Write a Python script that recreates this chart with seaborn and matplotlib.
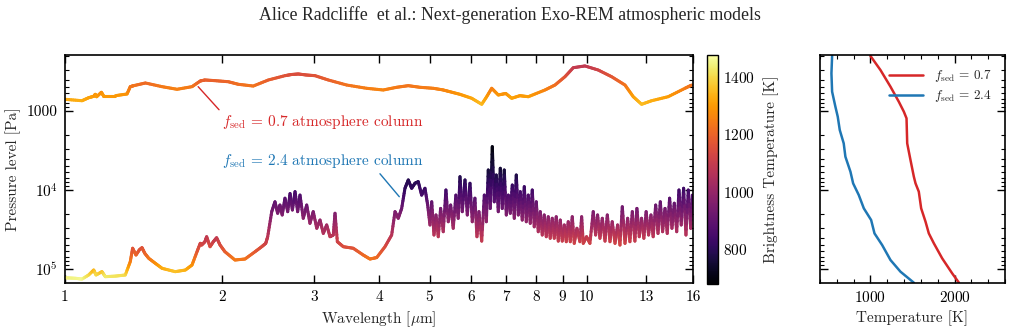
import numpy as np
import pandas as pd
import matplotlib
matplotlib.use("Agg")
import matplotlib.pyplot as plt
import seaborn as sns
from matplotlib.collections import LineCollection
from matplotlib.colors import Normalize
from matplotlib.ticker import (FixedLocator, FixedFormatter, LogLocator,
                               NullFormatter, MultipleLocator)

# ---------------- data ----------------
# f_sed = 0.7 : emission pressure level per wavelength + brightness temperature
wl_07 = [1.00, 1.078, 1.110, 1.135, 1.143, 1.150, 1.174, 1.185, 1.249, 1.315,
         1.334, 1.354, 1.426, 1.535, 1.640, 1.752, 1.817, 1.855, 1.940, 2.057,
         2.149, 2.296, 2.454, 2.641, 2.72, 2.802, 2.90, 3.015, 3.198, 3.468,
         3.788, 4.076, 4.324, 4.552, 4.793, 5.083, 5.30, 5.471, 5.719, 6.023,
         6.295, 6.435, 6.579, 6.773, 7.0, 7.185, 7.45, 7.733, 8.323, 8.699,
         9.092, 9.430, 9.93, 10.53, 11.17, 11.85, 12.29, 12.75, 13.33, 14.34,
         15.44, 15.91]
p_07 = [711, 741, 679, 652, 615, 660, 580, 640, 640, 609,
        492, 478, 442, 492, 531, 492, 417, 405, 413, 426,
        459, 483, 405, 357, 345, 340, 350, 357, 405, 469,
        516, 542, 501, 478, 501, 516, 540, 570, 615, 690,
        822, 659, 516, 627, 600, 690, 640, 659, 542, 469,
        368, 283, 269, 303, 368, 469, 659, 822, 741, 659,
        516, 469]
tb_07 = [1321, 1331, 1311, 1302, 1289, 1305, 1275, 1297, 1297, 1286,
         1238, 1231, 1211, 1238, 1255, 1238, 1197, 1190, 1195, 1202,
         1221, 1233, 1190, 1160, 1152, 1147, 1154, 1160, 1190, 1226,
         1249, 1260, 1242, 1231, 1242, 1249, 1259, 1271, 1289, 1315,
         1353, 1304, 1249, 1293, 1283, 1315, 1297, 1304, 1260, 1226,
         1167, 1100, 1085, 1119, 1167, 1226, 1304, 1353, 1331, 1304,
         1249, 1226]

# f_sed = 2.4
wl_24 = [1.00, 1.046, 1.078, 1.110, 1.135, 1.147, 1.177, 1.195, 1.249, 1.305,
         1.334, 1.348, 1.368, 1.388, 1.405, 1.422, 1.447, 1.490, 1.535, 1.627,
         1.701, 1.752, 1.791, 1.817, 1.828, 1.855, 1.869, 1.897, 1.925, 1.953,
         1.983, 2.026, 2.118, 2.214, 2.314, 2.383, 2.426, 2.447, 2.491, 2.527,
         2.557, 2.583, 2.609, 2.641, 2.673, 2.701, 2.729, 2.761, 2.793, 2.822,
         2.863, 2.907, 2.949, 2.992, 3.039, 3.083, 3.128, 3.175, 3.222, 3.269,
         3.294, 3.328, 3.417, 3.570, 3.731, 3.843, 3.960, 4.107, 4.230, 4.293,
         4.355, 4.421, 4.486, 4.552, 4.620, 4.688, 4.757, 4.829, 4.900, 4.959,
         5.010, 5.048, 5.099, 5.144, 5.196, 5.251, 5.312, 5.375, 5.431, 5.489,
         5.551, 5.617, 5.675, 5.719, 5.777, 5.847, 5.907, 5.977, 6.038, 6.109,
         6.164, 6.219, 6.295, 6.368, 6.425, 6.480, 6.538, 6.596, 6.653, 6.713,
         6.773, 6.833, 6.893, 6.954, 7.017, 7.079, 7.142, 7.205, 7.269, 7.333,
         7.398, 7.463, 7.529, 7.597, 7.664, 7.731, 7.801, 7.869, 7.938, 8.010,
         8.080, 8.151, 8.224, 8.296, 8.371, 8.445, 8.519, 8.594, 8.672, 8.748,
         8.827, 8.905, 8.983, 9.064, 9.144, 9.224, 9.307, 9.389, 9.472, 9.585,
         9.712, 9.786, 9.856, 10.00, 10.15, 10.30, 10.41, 10.50, 10.61, 10.72,
         10.85, 10.96, 11.09, 11.20, 11.34, 11.47, 11.59, 11.71, 11.85, 11.99,
         12.11, 12.24, 12.38, 12.49, 12.62, 12.75, 12.88, 13.01, 13.15, 13.29,
         13.42, 13.57, 13.71, 13.85, 13.99, 14.14, 14.28, 14.43, 14.58, 14.73,
         14.89, 15.04, 15.19, 15.35, 15.51, 15.67, 15.84, 15.95]
p_24 = [1.29e5, 1.31e5, 1.34e5, 1.19e5, 1.03e5, 1.19e5, 1.08e5, 1.25e5, 1.23e5, 1.19e5,
        8.07e4, 5.46e4, 6.65e4, 5.74e4, 5.37e4, 6.32e4, 7.31e4, 8.47e4, 9.80e4, 1.08e5,
        1.03e5, 8.90e4, 6.04e4, 4.73e4, 4.97e4, 4.51e4, 3.90e4, 5.22e4, 4.51e4, 4.02e4,
        4.97e4, 6.04e4, 7.69e4, 7.47e4, 6.04e4, 5.22e4, 4.73e4, 3.90e4, 1.88e4, 1.41e4,
        1.97e4, 1.55e4, 2.07e4, 1.27e4, 1.88e4, 1.11e4, 1.79e4, 1.05e4, 1.88e4, 1.16e4,
        2.28e4, 1.55e4, 2.64e4, 1.88e4, 3.05e4, 2.40e4, 3.54e4, 2.77e4, 3.90e4, 3.71e4,
        1.97e4, 4.51e4, 5.22e4, 5.46e4, 6.65e4, 7.47e4, 7.16e4, 5.22e4, 3.71e4, 1.88e4,
        2.28e4, 1.71e4, 9.51e3, 7.46e3, 9.51e3, 8.22e3, 7.85e3, 1.16e4, 9.51e3, 1.55e4,
        2.77e4, 1.41e4, 3.71e4, 2.07e4, 3.90e4, 1.71e4, 3.37e4, 1.00e4, 2.52e4, 1.55e4,
        3.05e4, 1.16e4, 2.28e4, 6.79e3, 1.88e4, 7.46e3, 2.07e4, 8.22e3, 2.52e4, 1.27e4,
        3.90e4, 1.88e4, 4.43e4, 1.16e4, 2.52e4, 5.58e3, 1.71e4, 2.83e3, 1.41e4, 6.46e3,
        1.88e4, 5.31e3, 1.71e4, 5.58e3, 2.07e4, 1.16e4, 1.97e4, 8.65e3, 2.28e4, 6.46e3,
        2.07e4, 1.05e4, 2.40e4, 9.08e3, 2.52e4, 1.16e4, 2.64e4, 1.00e4, 2.92e4, 1.41e4,
        3.37e4, 1.88e4, 3.71e4, 2.07e4, 3.90e4, 2.18e4, 4.08e4, 2.28e4, 4.08e4, 2.18e4,
        4.43e4, 2.40e4, 4.43e4, 2.77e4, 4.51e4, 2.52e4, 4.51e4, 2.18e4, 4.73e4, 3.05e4,
        4.51e4, 2.18e4, 4.73e4, 3.90e4, 4.73e4, 1.88e4, 3.71e4, 2.07e4, 4.08e4, 2.28e4,
        4.43e4, 2.07e4, 4.51e4, 2.52e4, 4.73e4, 2.77e4, 4.97e4, 1.63e4, 4.73e4, 2.28e4,
        4.51e4, 1.88e4, 4.43e4, 1.71e4, 3.90e4, 2.28e4, 4.08e4, 1.88e4, 3.71e4, 2.07e4,
        3.90e4, 1.55e4, 3.54e4, 1.41e4, 3.37e4, 1.71e4, 3.54e4, 1.27e4, 3.05e4, 1.47e4,
        3.37e4, 1.00e4, 2.77e4, 9.51e3, 3.71e4, 1.00e4, 3.05e4, 1.16e4]
tb_24 = [1440, 1448, 1457, 1405, 1340, 1405, 1362, 1427, 1418, 1405,
         1257, 1159, 1205, 1170, 1155, 1192, 1228, 1273, 1323, 1362,
         1340, 1290, 1181, 1125, 1137, 1116, 1085, 1148, 1116, 1091,
         1137, 1181, 1240, 1233, 1181, 1148, 1125, 1085, 945, 894,
         953, 912, 963, 876, 945, 850, 935, 840, 945, 860,
         981, 912, 1008, 945, 1036, 990, 1063, 1018, 1085, 1075,
         953, 1116, 1148, 1159, 1205, 1233, 1217, 1148, 1075, 945,
         981, 925, 810, 790, 810, 795, 795, 855, 820, 910,
         1018, 894, 1075, 963, 1085, 925, 1055, 830, 1000, 912,
         1036, 860, 981, 776, 945, 790, 963, 803, 1000, 876,
         1085, 945, 1105, 860, 1000, 750, 925, 690, 894, 770,
         945, 745, 925, 750, 963, 860, 953, 810, 981, 770,
         963, 840, 990, 815, 1000, 860, 1008, 830, 1027, 894,
         1055, 945, 1075, 963, 1085, 972, 1095, 981, 1095, 972,
         1105, 990, 1105, 1018, 1116, 1000, 1116, 972, 1125, 1036,
         1116, 972, 1125, 1085, 1125, 945, 1075, 963, 1095, 981,
         1105, 963, 1116, 1000, 1125, 1018, 1137, 920, 1125, 981,
         1116, 945, 1105, 925, 1085, 981, 1095, 945, 1075, 963,
         1085, 912, 1063, 894, 1055, 925, 1063, 876, 1036, 900,
         1055, 830, 1018, 820, 1075, 830, 1036, 860]

# temperature-pressure profiles (right panel)
prof_p = [201, 303, 492, 762, 1019, 1238, 2566, 4170, 6776, 8240, 10500, 17060,
          25180, 35400, 47300, 73300, 113500, 149000]
prof_t_07 = [1000, 1119, 1238, 1337, 1397, 1429, 1437, 1476, 1516, 1536, 1575,
             1603, 1655, 1694, 1754, 1853, 1972, 2052]
prof_p_24 = [201, 334, 569, 881, 1180, 1740, 2566, 3787, 5860, 8240, 11570, 17060,
             23970, 35400, 49700, 76900, 108100, 149000]
prof_t_24 = [544, 536, 544, 583, 611, 635, 682, 702, 762, 794, 861, 921, 1008,
             1048, 1139, 1238, 1357, 1516]

wl_ticks = [1, 2, 3, 4, 5, 6, 7, 8, 9, 10, 13, 16]
p_ticks = [1e3, 1e4, 1e5]
p_tick_labels = ["1000", r"$10^4$", r"$10^5$"]
cbar_ticks = [800, 1000, 1200, 1400]
label_07 = r"$f_{\rm sed}$ = 0.7"
label_24 = r"$f_{\rm sed}$ = 2.4"
RED = "#d62728"
BLUE = "#1f77b4"

# ---------------- style ----------------
sns.set_theme(style="ticks")
plt.rcParams.update({
    "font.family": ["cmr10", "DejaVu Serif"],
    "mathtext.fontset": "cm",
    "axes.unicode_minus": False,
    "axes.formatter.use_mathtext": True,
    "axes.linewidth": 1.2,
    "axes.edgecolor": "black",
    "xtick.direction": "in", "ytick.direction": "in",
    "xtick.top": True, "ytick.right": True,
    "xtick.major.size": 6, "ytick.major.size": 6,
    "xtick.minor.size": 3, "ytick.minor.size": 3,
    "xtick.major.width": 1.0, "ytick.major.width": 1.0,
    "xtick.minor.width": 0.8, "ytick.minor.width": 0.8,
    "xtick.color": "black", "ytick.color": "black",
    "xtick.labelsize": 11, "ytick.labelsize": 11,
    "axes.labelsize": 11,
})

W, H = 1013, 329
fig = plt.figure(figsize=(W / 100, H / 100), dpi=100)
ax = fig.add_axes([65 / W, 1 - 283 / H, (693 - 65) / W, (283 - 55) / H])
cax = fig.add_axes([707 / W, 1 - 284 / H, 11 / W, (284 - 55) / H])
ax2 = fig.add_axes([820 / W, 1 - 283 / H, (1005 - 820) / W, (283 - 55) / H])

norm = Normalize(vmin=680, vmax=1475)
cmap = plt.get_cmap("inferno")


def gradient_collection(x, y, c, n=8, lw=2.1):
    """Split each drawn segment into n pieces so the colour varies smoothly
    along the line (rendering only; data points are untouched)."""
    x, y, c = np.asarray(x, float), np.asarray(y, float), np.asarray(c, float)
    lx, ly = np.log10(x), np.log10(y)
    t = np.linspace(0, 1, n + 1)
    segs, cols = [], []
    for i in range(len(x) - 1):
        xs = 10 ** (lx[i] + (lx[i + 1] - lx[i]) * t)
        ys = 10 ** (ly[i] + (ly[i + 1] - ly[i]) * t)
        tm = 0.5 * (t[:-1] + t[1:])
        cs = c[i] + (c[i + 1] - c[i]) * tm
        for j in range(n):
            segs.append([(xs[j], ys[j]), (xs[j + 1], ys[j + 1])])
            cols.append(cs[j])
    lc = LineCollection(segs, cmap=cmap, norm=norm, linewidths=lw,
                        capstyle="round", joinstyle="round")
    lc.set_array(np.array(cols))
    return lc


ax.set_xscale("log")
ax.set_yscale("log")
lc1 = gradient_collection(wl_07, p_07, tb_07, lw=2.2)
lc2 = gradient_collection(wl_24, p_24, tb_24, lw=2.2)
ax.add_collection(lc1)
ax.add_collection(lc2)
ax.set_xlim(1, 16)
ax.set_ylim(1.503e5, 195.5)

ax.xaxis.set_major_locator(FixedLocator(wl_ticks))
ax.xaxis.set_major_formatter(FixedFormatter([str(v) for v in wl_ticks]))
ax.xaxis.set_minor_locator(FixedLocator([]))
ax.yaxis.set_major_locator(FixedLocator(p_ticks))
ax.yaxis.set_major_formatter(FixedFormatter(p_tick_labels))
ax.yaxis.set_minor_locator(LogLocator(base=10, subs=np.arange(2, 10)))
ax.yaxis.set_minor_formatter(NullFormatter())
ax.set_xlabel(r"Wavelength [$\mu$m]", labelpad=4)
ax.set_ylabel("Pressure level [Pa]", labelpad=4)
ax.tick_params(axis="both", which="major", pad=5)

ax.annotate(label_07 + " atmosphere column", xy=(1.80, 492), xytext=(2.0, 1378),
            color=RED, fontsize=11, ha="left", va="center",
            arrowprops=dict(arrowstyle="-", color=RED, lw=1.0,
                            relpos=(0.0, 1.0), shrinkA=0, shrinkB=0))
ax.annotate(label_24 + " atmosphere column", xy=(4.375, 1.216e4), xytext=(2.0, 4355),
            color=BLUE, fontsize=11, ha="left", va="center",
            arrowprops=dict(arrowstyle="-", color=BLUE, lw=1.0,
                            relpos=(0.77, 0.0), shrinkA=0, shrinkB=0))

# colorbar
cb = fig.colorbar(lc1, cax=cax)
cb.set_ticks(cbar_ticks)
cb.ax.yaxis.set_minor_locator(MultipleLocator(50))
cb.ax.tick_params(which="both", direction="in", left=True, right=True,
                  labelsize=11, color="black")
cb.ax.tick_params(which="major", length=5)
cb.ax.tick_params(which="minor", length=3)
cb.outline.set_linewidth(1.0)
cb.set_label("Brightness Temperature [K]", fontsize=11, labelpad=6)

# right panel: T-P profiles
df = pd.concat([
    pd.DataFrame({"Temperature": prof_t_07, "Pressure": prof_p, "model": label_07}),
    pd.DataFrame({"Temperature": prof_t_24, "Pressure": prof_p_24, "model": label_24}),
])
sns.lineplot(data=df, x="Temperature", y="Pressure", hue="model",
             palette={label_07: RED, label_24: BLUE}, sort=False,
             estimator=None, lw=1.8, ax=ax2)
ax2.set_yscale("log")
ax2.set_ylim(1.503e5, 195.5)
ax2.set_xlim(400, 2600)
ax2.xaxis.set_major_locator(FixedLocator([1000, 2000]))
ax2.xaxis.set_minor_locator(MultipleLocator(200))
ax2.yaxis.set_major_locator(FixedLocator(p_ticks))
ax2.yaxis.set_minor_locator(LogLocator(base=10, subs=np.arange(2, 10)))
ax2.yaxis.set_major_formatter(NullFormatter())
ax2.yaxis.set_minor_formatter(NullFormatter())
ax2.tick_params(axis="both", which="both", top=True, right=True)
ax2.tick_params(axis="x", which="major", pad=5)
ax2.set_ylabel("")
ax2.set_xlabel("Temperature [K]", labelpad=4)
leg = ax2.legend(loc="upper right", frameon=False, fontsize=9.5,
                 handlelength=2.6, borderaxespad=0.6, labelspacing=0.3)
leg.set_title(None)

fig.text(510 / W, 1 - 15 / H,
         "Alice Radcliffe  et al.: Next-generation Exo-REM atmospheric models",
         ha="center", va="center", fontsize=12.8, family="Liberation Serif")

fig.savefig("out.png", dpi=100)
